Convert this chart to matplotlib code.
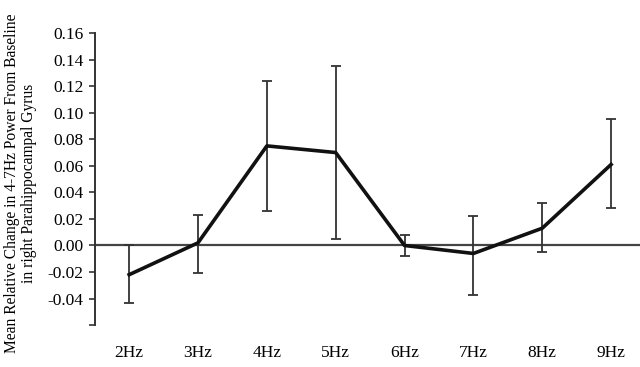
import numpy as np
from matplotlib import pyplot as plt

plt.rcParams['font.family'] = ['Liberation Serif', 'DejaVu Serif']

labels = ["2Hz", "3Hz", "4Hz", "5Hz", "6Hz", "7Hz", "8Hz", "9Hz"]
means = [-0.022, 0.002, 0.075, 0.070, 0.000, -0.006, 0.013, 0.061]
upper = [0.000, 0.023, 0.124, 0.135, 0.008, 0.022, 0.032, 0.095]
lower = [-0.043, -0.021, 0.026, 0.005, -0.008, -0.037, -0.005, 0.028]

x = np.arange(len(labels))
err = [np.array(means) - np.array(lower), np.array(upper) - np.array(means)]

fig = plt.figure(figsize=(6.4, 3.67), dpi=100)
ax = fig.add_axes([0.148, 0.114, 0.852, 0.796])

ax.axhline(0, color="#444444", lw=1.6, zorder=1)
ax.errorbar(x, means, yerr=err, fmt="none", ecolor="#333333", elinewidth=1.3,
            capsize=3.5, capthick=1.3, zorder=2)
ax.plot(x, means, color="#111111", lw=2.6, zorder=3)

ax.set_xlim(-0.5, 7.42)
ax.set_ylim(-0.06, 0.16)
ax.set_yticks(np.arange(-0.06, 0.161, 0.02))
ax.set_yticklabels([""] + ["%.2f" % v for v in np.arange(-0.04, 0.161, 0.02)])
ax.set_xticks(x)
ax.set_xticklabels(labels)
ax.tick_params(axis="x", length=0, pad=14, labelsize=12.5)
ax.tick_params(axis="y", direction="out", length=4, width=1.2, color="#333333", labelsize=12.5, pad=4)

for s in ["top", "right", "bottom"]:
    ax.spines[s].set_visible(False)
ax.spines["left"].set_color("#333333")
ax.spines["left"].set_linewidth(1.4)

# y label as figure text so it sits like the original
fig.text(0.032, 0.50, "Mean Relative Change in 4-7Hz Power From Baseline\nin right Parahippocampal Gyrus",
         rotation=90, ha="center", va="center", fontsize=11.2, linespacing=1.1,
         multialignment="center")

fig.savefig("out.png", dpi=100)
